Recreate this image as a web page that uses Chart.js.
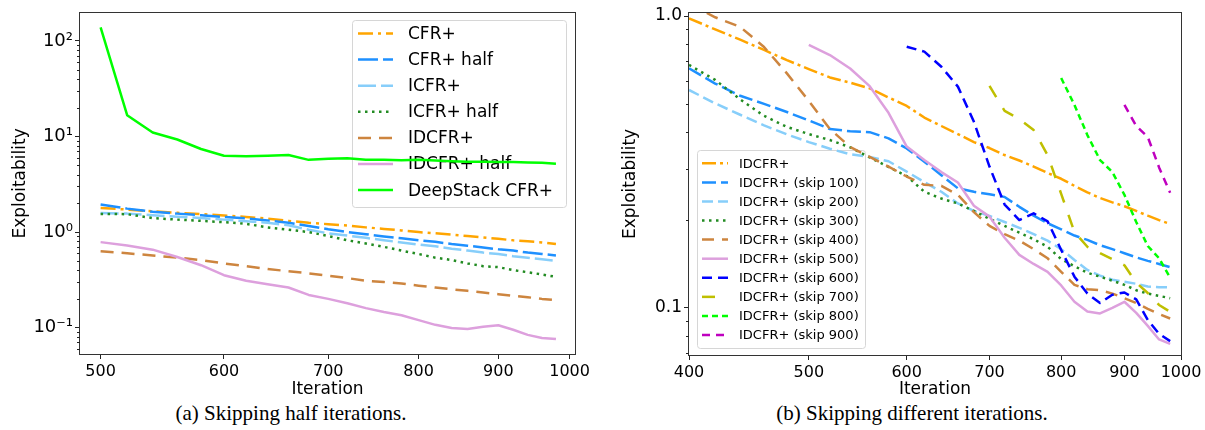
<!DOCTYPE html>
<html>
<head>
<meta charset="utf-8">
<script src="https://cdn.jsdelivr.net/npm/chart.js@4.4.0/dist/chart.umd.min.js"></script>
<style>
  html, body { margin: 0; padding: 0; background: #fff; }
  #wrap { position: relative; width: 1205px; height: 430px; overflow: hidden; }
  .box { position: absolute; top: 0; height: 400px; }
  #boxA { left: 0; width: 600px; }
  #boxB { left: 600px; width: 605px; }
  .cap { position: absolute; top: 401px; line-height: 24px; font-family: "Liberation Serif", "Times New Roman", serif;
         font-size: 21px; color: #000; transform: translateX(-50%); white-space: nowrap; }
</style>
</head>
<body>
<div id="wrap">
  <div class="box" id="boxA"><canvas id="chartHalf"></canvas></div>
  <div class="box" id="boxB"><canvas id="chartSkip"></canvas></div>
  <div class="cap" style="left:291px">(a) Skipping half iterations.</div>
  <div class="cap" style="left:912px">(b) Skipping different iterations.</div>
</div>
<script>
// (a) skipping half iterations, x = iteration
const iterHalf = [500, 520, 540, 560, 580, 600, 620, 640, 660, 680, 700, 720, 740, 760, 780, 800, 820, 840, 860, 880, 900, 920, 940, 960, 980]
const cfrPlus = [1.79, 1.72, 1.65, 1.59, 1.54, 1.49, 1.44, 1.38, 1.31, 1.25, 1.21, 1.17, 1.12, 1.08, 1.04, 1.00, 0.97, 0.94, 0.91, 0.88, 0.85, 0.82, 0.80, 0.78, 0.75]
const cfrPlusHalf = [1.94, 1.76, 1.63, 1.56, 1.50, 1.44, 1.39, 1.32, 1.25, 1.16, 1.07, 1.00, 0.95, 0.90, 0.86, 0.82, 0.79, 0.75, 0.72, 0.69, 0.66, 0.64, 0.61, 0.59, 0.57]
const icfrPlus = [1.58, 1.56, 1.50, 1.45, 1.40, 1.35, 1.30, 1.25, 1.18, 1.06, 0.97, 0.92, 0.87, 0.82, 0.78, 0.74, 0.71, 0.67, 0.64, 0.61, 0.59, 0.56, 0.54, 0.52, 0.50]
const icfrPlusHalf = [1.55, 1.54, 1.40, 1.35, 1.31, 1.27, 1.22, 1.12, 1.06, 1.00, 0.91, 0.82, 0.76, 0.70, 0.64, 0.59, 0.54, 0.51, 0.47, 0.44, 0.43, 0.40, 0.38, 0.36, 0.34]
const idcfrPlus = [0.63, 0.60, 0.57, 0.54, 0.51, 0.47, 0.44, 0.41, 0.39, 0.37, 0.35, 0.33, 0.31, 0.30, 0.29, 0.275, 0.263, 0.252, 0.243, 0.233, 0.224, 0.215, 0.208, 0.200, 0.194]
const idcfrPlusHalf = [0.785, 0.725, 0.655, 0.548, 0.45, 0.354, 0.31, 0.285, 0.263, 0.22, 0.20, 0.18, 0.16, 0.146, 0.135, 0.12, 0.107, 0.099, 0.097, 0.102, 0.106, 0.095, 0.084, 0.078, 0.076]
const deepStack = [139, 16.7, 11.0, 9.3, 7.4, 6.3, 6.2, 6.3, 6.4, 5.7, 5.85, 5.93, 5.7, 5.7, 5.65, 5.7, 5.6, 5.5, 5.45, 5.45, 5.4, 5.4, 5.35, 5.3, 5.2]

// (b) skipping different iterations; late-starting series cover the tail of iterSkip
const iterSkip = [400, 420, 440, 460, 480, 500, 520, 540, 560, 580, 600, 620, 640, 660, 680, 700, 720, 740, 760, 780, 800, 820, 840, 860, 880, 900, 920, 940, 960, 980]
const idcfr = [0.982, 0.90, 0.83, 0.765, 0.706, 0.658, 0.616, 0.591, 0.565, 0.526, 0.492, 0.449, 0.42, 0.394, 0.37, 0.353, 0.334, 0.32, 0.305, 0.29, 0.277, 0.262, 0.249, 0.238, 0.23, 0.223, 0.215, 0.207, 0.2, 0.194]
const skip100 = [0.662, 0.587, 0.533, 0.50, 0.469, 0.439, 0.41, 0.403, 0.40, 0.381, 0.352, 0.317, 0.285, 0.257, 0.25, 0.245, 0.24, 0.222, 0.207, 0.195, 0.186, 0.177, 0.171, 0.164, 0.159, 0.154, 0.149, 0.145, 0.1415, 0.138]
const skip200 = [0.558, 0.502, 0.459, 0.422, 0.393, 0.37, 0.351, 0.336, 0.329, 0.318, 0.293, 0.27, 0.25, 0.228, 0.215, 0.2066, 0.197, 0.188, 0.179, 0.17, 0.159, 0.146, 0.135, 0.129, 0.125, 0.123, 0.121, 0.1185, 0.1177, 0.1177]
const skip300 = [0.68, 0.604, 0.518, 0.455, 0.417, 0.394, 0.376, 0.355, 0.328, 0.304, 0.283, 0.25, 0.237, 0.228, 0.215, 0.202, 0.191, 0.181, 0.172, 0.162, 0.147, 0.139, 0.132, 0.128, 0.124, 0.12, 0.115, 0.112, 0.11, 0.108]
const skip400 = [1.10, 0.99, 0.918, 0.783, 0.636, 0.512, 0.41, 0.356, 0.329, 0.305, 0.282, 0.264, 0.262, 0.244, 0.213, 0.191, 0.179, 0.17, 0.159, 0.148, 0.133, 0.12, 0.116, 0.115, 0.112, 0.108, 0.104, 0.0993, 0.0954, 0.092]
const skip500 = [0.796, 0.735, 0.661, 0.575, 0.466, 0.357, 0.321, 0.292, 0.269, 0.224, 0.2055, 0.174, 0.152, 0.1415, 0.133, 0.1194, 0.105, 0.0973, 0.0958, 0.1, 0.105, 0.0962, 0.0868, 0.078, 0.0753]
const skip600 = [0.785, 0.755, 0.67, 0.573, 0.434, 0.305, 0.226, 0.2, 0.211, 0.198, 0.158, 0.128, 0.112, 0.104, 0.111, 0.113, 0.107, 0.091, 0.0815, 0.077]
const skip700 = [0.576, 0.473, 0.444, 0.407, 0.334, 0.246, 0.182, 0.162, 0.154, 0.147, 0.14, 0.122, 0.1125, 0.1024, 0.097]
const skip800 = [0.613, 0.496, 0.391, 0.321, 0.292, 0.244, 0.197, 0.163, 0.148, 0.127]
const skip900 = [0.496, 0.42, 0.385, 0.303, 0.248]

// ticks
const xTicksHalf = [500, 600, 700, 800, 900, 1000]
const xTicksSkip = [400, 500, 600, 700, 800, 900, 1000]
const yMajorHalf = [0.1, 1, 10, 100]
const yLabelsHalf = ["10\u207B\u00B9", "10\u2070", "10\u00B9", "10\u00B2"]
const yMinorHalf = [0.06, 0.07, 0.08, 0.09, 0.2, 0.3, 0.4, 0.5, 0.6, 0.7, 0.8, 0.9, 2, 3, 4, 5, 6, 7, 8, 9, 20, 30, 40, 50, 60, 70, 80, 90]
const yMajorSkip = [0.1, 1]
const yLabelsSkip = ["0.1", "1.0"]
const yMinorSkip = [0.07, 0.08, 0.09, 0.2, 0.3, 0.4, 0.5, 0.6, 0.7, 0.8, 0.9]

const FONT = "'DejaVu Sans', Verdana, sans-serif"
const INK = "#222"

function series(label, xs, ys, color, dash) {
  return {
    label,
    data: ys.map((y, k) => ({ x: xs[xs.length - ys.length + k], y })),
    borderColor: color,
    backgroundColor: color,
    borderWidth: 2.5,
    borderDash: dash,
    borderCapStyle: "butt",
    borderJoinStyle: "round",
    pointRadius: 0,
    tension: 0,
    fill: false,
  }
}

// frame, minor ticks and a matplotlib-like legend drawn under the lines
const framePlugin = {
  id: "frame",
  beforeDatasetsDraw(chart, args, opts) {
    const lg = opts.legend
    if (!lg) return
    const ctx = chart.ctx
    ctx.save()
    ctx.beginPath()
    ctx.roundRect(lg.x + 0.5, lg.y + 0.5, lg.w, lg.h, 3)
    ctx.fillStyle = "rgba(255,255,255,0.8)"
    ctx.fill()
    ctx.strokeStyle = "#d6d6d6"
    ctx.lineWidth = 1
    ctx.stroke()
    ctx.font = lg.size + "px " + FONT
    ctx.textBaseline = "middle"
    ctx.fillStyle = "#000"
    chart.data.datasets.forEach((ds, i) => {
      const y = lg.row0 + i * lg.rowH
      ctx.beginPath()
      ctx.setLineDash(ds.borderDash || [])
      ctx.lineCap = "butt"
      ctx.strokeStyle = ds.borderColor
      ctx.lineWidth = ds.borderWidth
      ctx.moveTo(lg.sx, y)
      ctx.lineTo(lg.sx + lg.slen, y)
      ctx.stroke()
      ctx.setLineDash([])
      ctx.fillText(ds.label, lg.tx, y + 1)
    })
    ctx.restore()
  },
  afterDraw(chart, args, opts) {
    const { ctx, chartArea: a } = chart
    ctx.save()
    ctx.strokeStyle = "#333"
    ctx.lineWidth = 1
    ctx.strokeRect(Math.round(a.left) - 0.5, Math.round(a.top) - 0.5, Math.round(a.right - a.left) + 1, Math.round(a.bottom - a.top) + 1)
    const ys = chart.scales.y
    ctx.strokeStyle = INK
    ;(opts.minorY || []).forEach((v) => {
      const p = Math.round(ys.getPixelForValue(v)) + 0.5
      ctx.beginPath()
      ctx.moveTo(a.left - 3, p)
      ctx.lineTo(a.left, p)
      ctx.stroke()
    })
    ctx.restore()
  },
}

function makeChart(id, cfg) {
  return new Chart(document.getElementById(id), {
    type: "line",
    data: { datasets: cfg.datasets.map((d, i) => Object.assign(d, { order: -i })) },
    options: {
      responsive: true,
      maintainAspectRatio: false,
      animation: false,
      layout: { padding: cfg.padding },
      plugins: {
        legend: { display: false },
        tooltip: { enabled: false },
        frame: { legend: cfg.legend, minorY: cfg.yMinor },
      },
      scales: {
        x: {
          type: "logarithmic",
          min: cfg.xMin,
          max: cfg.xMax,
          afterFit: (s) => { s.height = cfg.xHeight },
          afterBuildTicks: (s) => { s.ticks = cfg.xTicks.map((v) => ({ value: v })) },
          ticks: { autoSkip: false, maxRotation: 0, padding: 3, color: "#000", font: { family: FONT, size: 16 }, callback: (v) => String(v) },
          grid: { drawOnChartArea: false, drawTicks: true, tickLength: 5, tickColor: INK },
          border: { display: false },
          title: { display: true, text: "Iteration", color: "#000", font: { family: FONT, size: 17 }, padding: 0 },
        },
        y: {
          type: "logarithmic",
          min: cfg.yMin,
          max: cfg.yMax,
          afterFit: (s) => { s.width = cfg.yWidth },
          afterBuildTicks: (s) => { s.ticks = cfg.yMajor.map((v) => ({ value: v })) },
          ticks: {
            autoSkip: false, padding: 2, color: "#000", font: { family: FONT, size: cfg.yTickSize },
            callback: (v) => cfg.yLabels[cfg.yMajor.findIndex((m) => Math.abs(m - v) < 1e-9)],
          },
          grid: { drawOnChartArea: false, drawTicks: true, tickLength: 5, tickColor: INK },
          border: { display: false },
          title: { display: true, text: "Exploitability", color: "#000", font: { family: FONT, size: 17 }, padding: { top: cfg.yTitlePad, bottom: 0 } },
        },
      },
    },
    plugins: [framePlugin],
  })
}

makeChart("chartHalf", {
  datasets: [
    series("CFR+", iterHalf, cfrPlus, "#FFA500", [15, 5, 3, 5]),
    series("CFR+ half", iterHalf, cfrPlusHalf, "#1E90FF", [20, 5]),
    series("ICFR+", iterHalf, icfrPlus, "#87CEFA", [18, 5]),
    series("ICFR+ half", iterHalf, icfrPlusHalf, "#228B22", [2.5, 4.5]),
    series("IDCFR+", iterHalf, idcfrPlus, "#CD853F", [13, 8]),
    series("IDCFR+ half", iterHalf, idcfrPlusHalf, "#DDA0DD", []),
    series("DeepStack CFR+", iterHalf, deepStack, "#00FF00", []),
  ],
  padding: { left: 0, right: 25, top: 11, bottom: 0 },
  xMin: 485, xMax: 1008, xTicks: xTicksHalf, xHeight: 46,
  yMin: 0.053, yMax: 197, yMajor: yMajorHalf, yLabels: yLabelsHalf, yMinor: yMinorHalf, yWidth: 80, yTitlePad: 10, yTickSize: 18,
  legend: { x: 352, y: 20, w: 214, h: 187, row0: 33.5, rowH: 26.1, sx: 358, slen: 35, tx: 408, size: 17 },
})

makeChart("chartSkip", {
  datasets: [
    series("IDCFR+", iterSkip, idcfr, "#FFA500", [14, 4, 3, 4]),
    series("IDCFR+ (skip 100)", iterSkip, skip100, "#1E90FF", [14, 5]),
    series("IDCFR+ (skip 200)", iterSkip, skip200, "#87CEFA", [11, 5]),
    series("IDCFR+ (skip 300)", iterSkip, skip300, "#228B22", [2.5, 4.5]),
    series("IDCFR+ (skip 400)", iterSkip, skip400, "#CD853F", [12, 8]),
    series("IDCFR+ (skip 500)", iterSkip, skip500, "#DDA0DD", []),
    series("IDCFR+ (skip 600)", iterSkip, skip600, "#0000FF", [10, 6]),
    series("IDCFR+ (skip 700)", iterSkip, skip700, "#BFBF00", [13, 13]),
    series("IDCFR+ (skip 800)", iterSkip, skip800, "#00FF00", [6, 4]),
    series("IDCFR+ (skip 900)", iterSkip, skip900, "#BF00BF", [8, 6]),
  ],
  padding: { left: 0, right: 24, top: 13, bottom: 0 },
  xMin: 400, xMax: 1000, xTicks: xTicksSkip, xHeight: 45,
  yMin: 0.069, yMax: 1.024, yMajor: yMajorSkip, yLabels: yLabelsSkip, yMinor: yMinorSkip, yWidth: 89, yTitlePad: 20, yTickSize: 17,
  legend: { x: 97, y: 150, w: 168, h: 198, row0: 163.3, rowH: 19.08, sx: 102, slen: 26, tx: 139, size: 13 },
})
</script>
</body>
</html>
